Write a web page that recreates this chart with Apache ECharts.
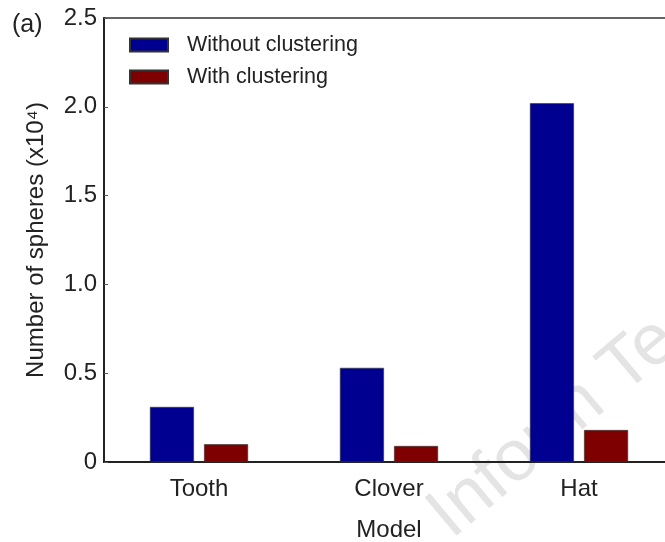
<!DOCTYPE html>
<html>
<head>
<meta charset="utf-8">
<script src="https://cdn.jsdelivr.net/npm/echarts@6/dist/echarts.min.js"></script>
<style>
  html, body { margin: 0; padding: 0; background: #fff; }
  #frame { position: relative; width: 665px; height: 542px; overflow: hidden; }
  /* the plot runs slightly past the right edge of the frame */
  #chart { position: absolute; left: 0; top: 0; width: 676px; height: 542px; }
</style>
</head>
<body>
<div id="frame"><div id="chart"></div></div>
<script>
// Sphere counts per model (units of 10^4)
const models = ['Tooth', 'Clover', 'Hat'];
const withoutClustering = [0.31, 0.53, 2.02];
const withClustering = [0.10, 0.09, 0.18];
const yTicks = [0, 0.5, 1.0, 1.5, 2.0, 2.5];

const font = 'Liberation Sans, Arial, sans-serif';
const chart = echarts.init(document.getElementById('chart'));

chart.setOption({
  animation: false,
  backgroundColor: '#fff',
  grid: {
    left: 104, top: 18, width: 570, height: 444,
    outerBoundsMode: 'none',
    show: true, borderColor: '#333', borderWidth: 1.5
  },
  legend: {
    left: 124, top: 29, orient: 'vertical',
    itemWidth: 38, itemHeight: 13, itemGap: 10,
    icon: 'rect',
    textStyle: { fontFamily: font, fontSize: 21.5, color: '#222', padding: [0, 0, 0, 14] },
    data: ['Without clustering', 'With clustering']
  },
  xAxis: {
    type: 'category',
    data: models,
    name: 'Model',
    nameLocation: 'middle',
    nameGap: 56,
    nameTextStyle: { fontFamily: font, fontSize: 24, color: '#222' },
    axisLine: { lineStyle: { color: '#222', width: 2 } },
    axisTick: { alignWithLabel: true, inside: true, length: 4, lineStyle: { color: '#555' } },
    axisLabel: { fontFamily: font, fontSize: 24, color: '#222', margin: 15 },
    splitLine: { show: false }
  },
  yAxis: {
    type: 'value',
    min: yTicks[0], max: yTicks[yTicks.length - 1], interval: 0.5,
    name: 'Number of spheres (x10\u2074)',
    nameLocation: 'middle',
    nameGap: 56,
    nameTextStyle: { fontFamily: font, fontSize: 24, color: '#222' },
    axisLine: { show: true, lineStyle: { color: '#222', width: 2 } },
    axisTick: { show: true, inside: true, length: 4, lineStyle: { color: '#555' } },
    axisLabel: {
      fontFamily: font, fontSize: 24, color: '#222', margin: 7,
      formatter: v => (v === 0 ? '0' : v.toFixed(1))
    },
    splitLine: { show: false }
  },
  series: [
    {
      name: 'Without clustering', type: 'bar', data: withoutClustering,
      barWidth: 44, barGap: '23%',
      itemStyle: { color: '#000090', borderColor: '#333', borderWidth: 0.6 }
    },
    {
      name: 'With clustering', type: 'bar', data: withClustering,
      barWidth: 44,
      itemStyle: { color: '#7f0000', borderColor: '#333', borderWidth: 0.6 }
    }
  ],
  graphic: [
    {
      type: 'text', left: 12, top: 13,
      style: { text: '(a)', font: '25px ' + font, fill: '#222' }
    },
    {
      type: 'text', x: 462, y: 552, rotation: 0.7, z: -1,
      style: { text: 'Inform Te', font: '72px ' + font, fill: '#e4e4e4', verticalAlign: 'bottom' }
    }
  ]
});
</script>
</body>
</html>
